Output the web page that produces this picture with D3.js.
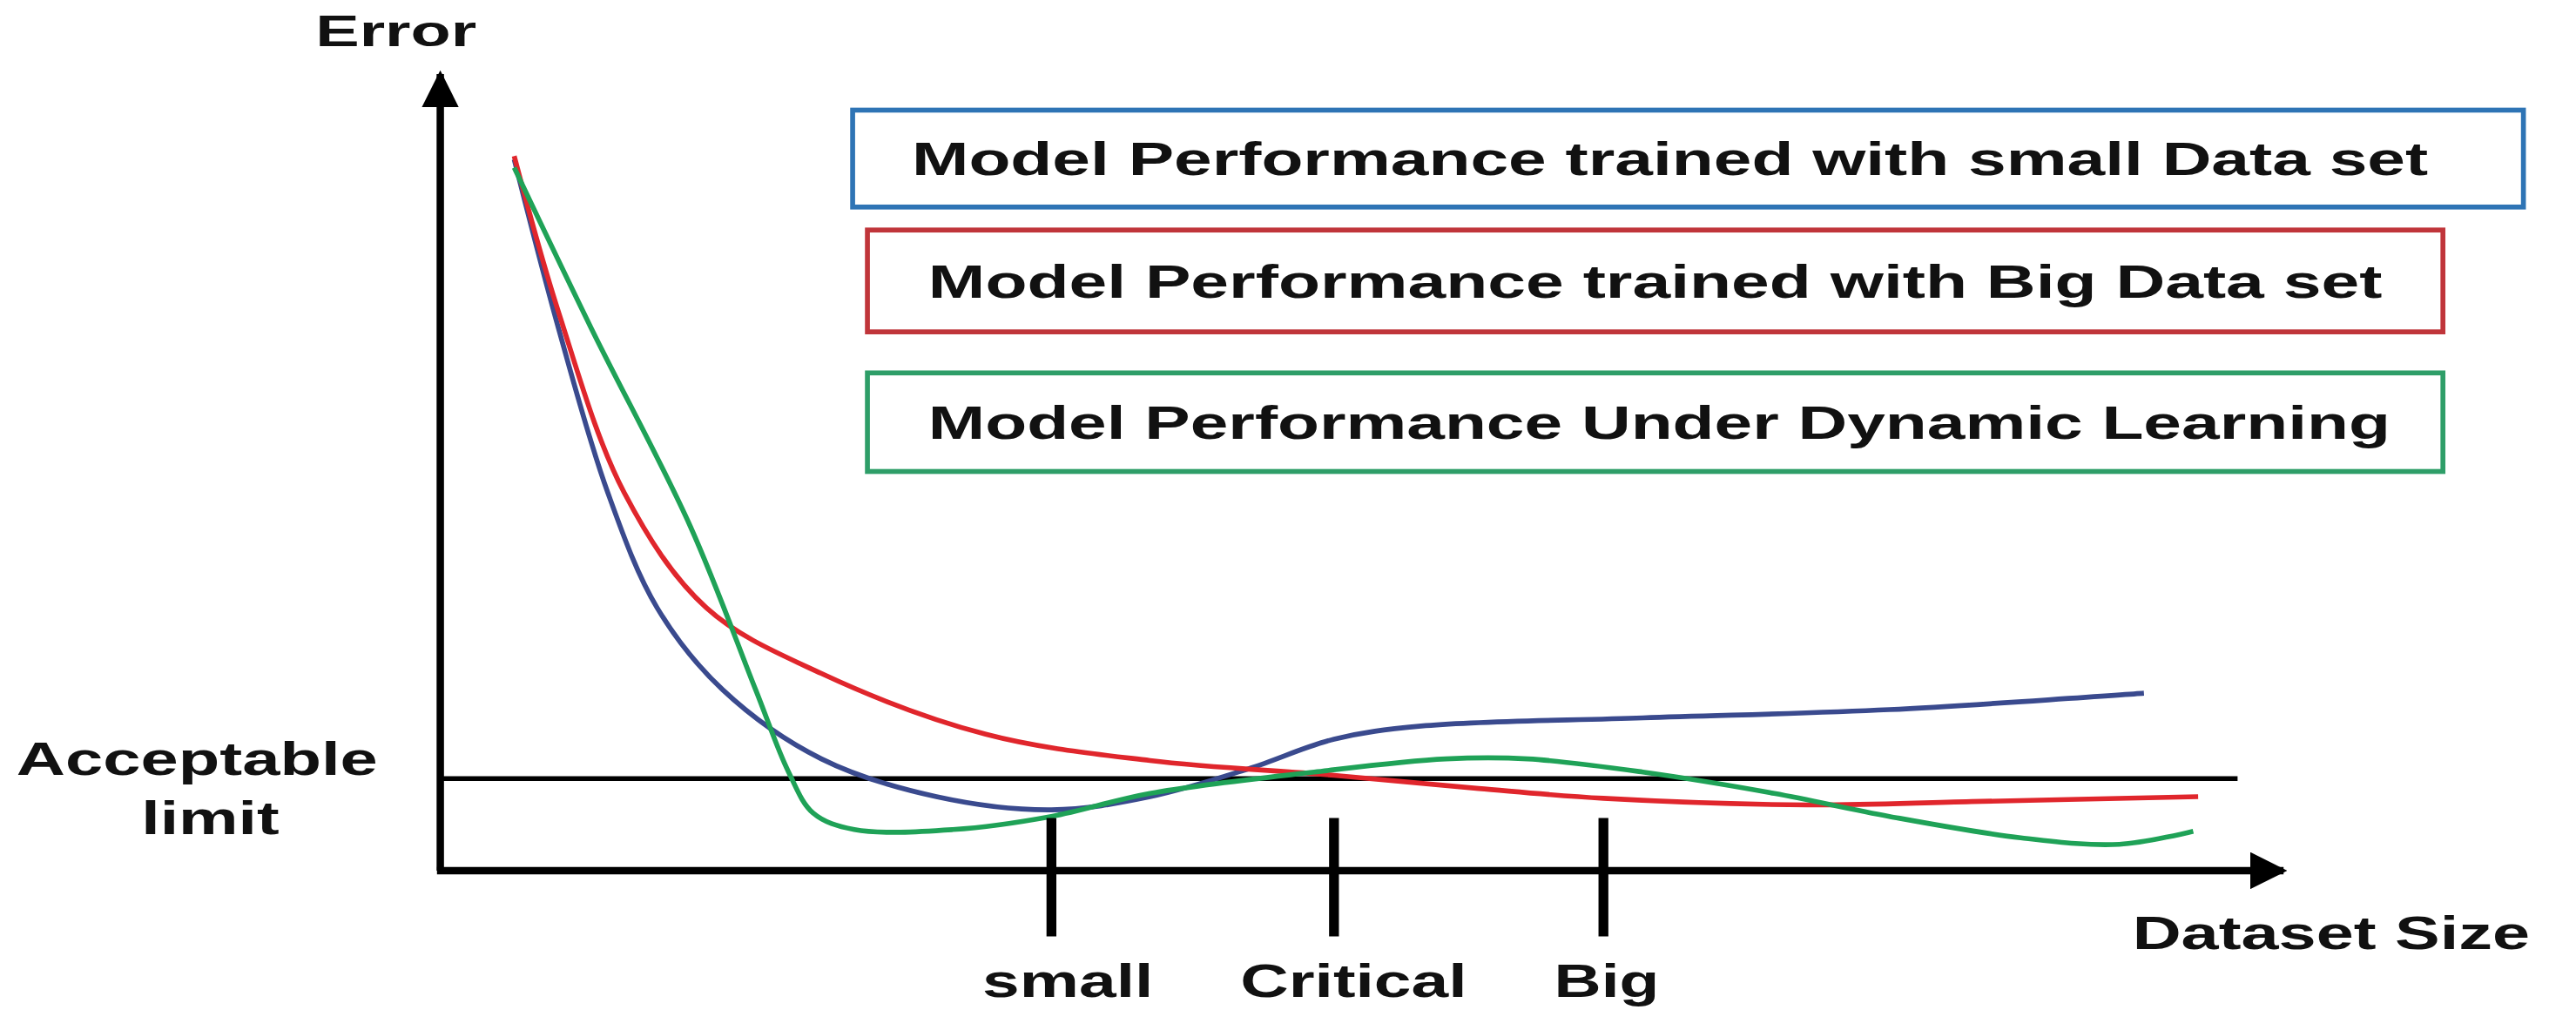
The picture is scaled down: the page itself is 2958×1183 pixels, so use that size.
<!DOCTYPE html>
<html><head><meta charset="utf-8">
<script src="https://cdn.jsdelivr.net/npm/d3@7"></script>
<style>body{margin:0;background:#fff}text{font-family:"Liberation Sans",Arial,sans-serif;font-weight:bold;fill:#111}</style>
</head><body><svg id="c"></svg>
<script>
// values (arbitrary units)
var smallX = [45,72,102,132,172,232,302,372,432,492,544,597,732,882,1037];
var smallY = [433,330,230,160,110,68,45,37,45,62,80,88,93,98,108];
var bigX = [45,72,112,162,232,332,432,544,632,708,832,932,1070];
var bigY = [435,340,230,160,120,83,67,58,50,44,40,42,45];
var dynX = [45,92,152,192,212,227,252,312,372,432,532,612,662,732,812,882,962,1022,1067];
var dynY = [428,330,210,110,60,35,25,25,33,47,60,68,68,60,47,33,20,16,24];
var acceptable = 56;
var tickNames = ["small","Critical","Big"];
var tickPos = [372,544,708];
var legendNames = ["Model Performance trained with small Data set","Model Performance trained with Big Data set","Model Performance Under Dynamic Learning"];
var colors = ["#3a4a8e","#e0262c","#1fa257"];
var boxColors = ["#2e74b5","#c0353a","#2e9e68"];

var svg = d3.select("#c").attr("width",2958).attr("height",1183).attr("viewBox","0 0 1568 627");
var x = d3.scaleLinear().domain([0,1122]).range([268,1390]);
var y = d3.scaleLinear().domain([0,485]).range([530,45]);

function label(tx,ty,str,len,size){
  return svg.append("text").attr("x",tx).attr("y",ty).attr("font-size",size||28)
    .attr("textLength",len).attr("lengthAdjust","spacingAndGlyphs").text(str);
}

// axes with arrows
svg.append("defs").append("marker").attr("id","ar").attr("viewBox","0 0 10 10").attr("refX",9).attr("refY",5)
  .attr("markerWidth",5).attr("markerHeight",5).attr("orient","auto").attr("markerUnits","strokeWidth")
  .append("path").attr("d","M0,0L10,5L0,10z").attr("fill","#000");
svg.append("line").attr("x1",x(0)).attr("y1",y(0)).attr("x2",x(0)).attr("y2",y(485)).attr("stroke","#000").attr("stroke-width",4.5).attr("marker-end","url(#ar)");
svg.append("line").attr("x1",x(0)-2).attr("y1",y(0)).attr("x2",x(1122)).attr("y2",y(0)).attr("stroke","#000").attr("stroke-width",4.5).attr("marker-end","url(#ar)");

svg.append("line").attr("x1",x(0)).attr("x2",x(1094)).attr("y1",y(acceptable)).attr("y2",y(acceptable)).attr("stroke","#000").attr("stroke-width",3);

var line = d3.line().curve(d3.curveCatmullRom);
[[smallX,smallY],[bigX,bigY],[dynX,dynY]].forEach(function(s,i){
  svg.append("path").attr("d",line(s[0].map(function(v,j){return [x(v),y(s[1][j])];})))
    .attr("fill","none").attr("stroke",colors[i]).attr("stroke-width",3);
});

var tickLeft = [598,755,946], tickLen = [104,138,64];
tickPos.forEach(function(p,i){
  svg.append("line").attr("x1",x(p)).attr("x2",x(p)).attr("y1",y(0)-32).attr("y2",y(0)+40).attr("stroke","#000").attr("stroke-width",6);
  label(tickLeft[i],607,tickNames[i],tickLen[i]);
});

label(192,28,"Error",98,26);
label(1298,578,"Dataset Size",242);
label(10,472,"Acceptable",220);
label(86,508,"limit",84);

var boxes = [[519,67,1017,59],[528,140,959,62],[528,227,959,60]];
var textSpan = [[555,923],[565,885],[565,890]];
boxes.forEach(function(b,i){
  svg.append("rect").attr("x",b[0]).attr("y",b[1]).attr("width",b[2]).attr("height",b[3]).attr("fill","#fff").attr("stroke",boxColors[i]).attr("stroke-width",3);
  label(textSpan[i][0],b[1]+b[3]/2+10,legendNames[i],textSpan[i][1],28);
});
</script></body></html>
